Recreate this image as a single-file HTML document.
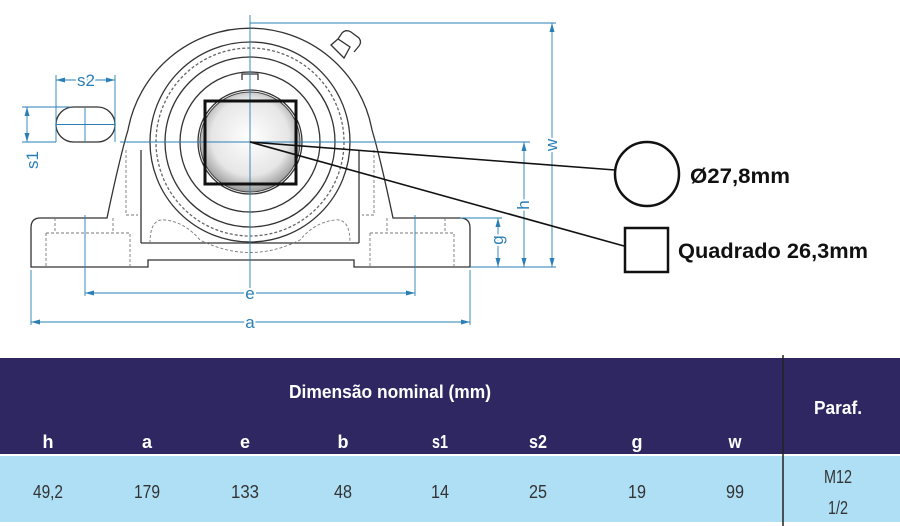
<!DOCTYPE html>
<html><head><meta charset="utf-8"><style>
body{margin:0;width:900px;height:526px;background:#fff;overflow:hidden;font-family:"Liberation Sans",sans-serif}
svg{position:absolute;left:0;top:0}
</style></head><body>
<svg width="900" height="526" viewBox="0 0 900 526">
<defs>
<radialGradient id="ball" cx="0.5" cy="0.45" r="0.55">
<stop offset="0" stop-color="#fff"/><stop offset="0.7" stop-color="#e6e6e6"/><stop offset="1" stop-color="#9a9a9a"/>
</radialGradient>
</defs>
<g fill="none" stroke="#333" stroke-width="1.3">
<path d="M40,218 L107,218 C115,180 122,150 128,130 A124,124 0 0 1 372,130 C378,150 385,180 393,218 L460,218 Q470,218 470,228 L470,267 L354,267 L354,260 L148,260 L148,267 L31,267 L31,228 Q31,218 40,218 Z"/>
<path d="M141,243 L141,150 M359,243 L359,150 M141,243 L359,243"/>
<circle cx="250" cy="142" r="100"/>
<circle cx="250" cy="142" r="94" stroke-dasharray="3,2" stroke="#666"/>
<circle cx="250" cy="142" r="85"/>
<circle cx="250" cy="142" r="70"/>
<circle cx="250" cy="142" r="52"/>
<path d="M242,80 L242,74 L258,74 L258,80"/>
<path d="M331,45 L338,39 L350,47 L344,58 Z M338,39 l4,-6 q4,-4 9,-1 l8,6 q3,4 0,8 l-5,6"/>
</g>
<g fill="none" stroke="#777" stroke-width="0.9" stroke-dasharray="3,2">
<path d="M46,233 L130,233 L130,267 M46,233 L46,267 M370,233 L454,233 L454,267 M370,233 L370,267"/>
<path d="M55,218 L55,233 M113,218 L113,233 M387,218 L387,233 M445,218 L445,233"/>
<path d="M150,243 Q150,218 165,220 Q185,222 200,240 Q250,265 300,240 Q315,222 335,220 Q350,218 350,243"/>
<path d="M126,150 L126,215 L138,215 M374,150 L374,215 L362,215"/>
</g>
<circle cx="250" cy="142" r="50" fill="url(#ball)" stroke="#444"/>
<rect x="56" y="107" width="59" height="35" rx="17.5" fill="none" stroke="#333" stroke-width="1.3"/>
<g stroke="#2a7fb5" stroke-width="0.9" fill="none">
<path d="M250,15 L250,300 M120,142 L530,142 M250,23 L556,23 M470,267 L556,267 M460,218 L502,218"/>
<path d="M552,23 L552,267 M524,142 L524,267 M498,218 L498,267"/>
<path d="M85,215 L85,296 M415,215 L415,296 M85,293 L415,293"/>
<path d="M31,270 L31,325 M470,270 L470,325 M31,322 L470,322"/>
<path d="M56,75 L56,142 M115,75 L115,142 M56,80 L115,80"/>
<path d="M22,107 L70,107 M22,142 L56,142 M27,107 L27,142 M56,124.5 L115,124.5 M85,107 L85,142"/>
</g>
<g fill="#2a7fb5">
<path d="M85,293 l9,-2.5 v5z M415,293 l-9,-2.5 v5z M31,322 l9,-2.5 v5z M470,322 l-9,-2.5 v5z"/>
<path d="M552,23 l-2.5,9 h5z M552,267 l-2.5,-9 h5z M524,142 l-2.5,9 h5z M524,267 l-2.5,-9 h5z M498,218 l-2.5,9 h5z M498,267 l-2.5,-9 h5z"/>
<path d="M56,80 l9,-2.5 v5z M115,80 l-9,-2.5 v5z M27,107 l-2.5,9 h5z M27,142 l-2.5,-9 h5z"/>
</g>
<g fill="#2a7fb5" font-size="17" font-family="Liberation Sans,sans-serif" text-anchor="middle" stroke="#fff" stroke-width="4" paint-order="stroke">
<text x="250" y="299">e</text><text x="250" y="328">a</text>
<text x="86" y="86">s2</text>
<text transform="translate(38,160) rotate(-90)">s1</text>
<text transform="translate(557,145) rotate(-90)">w</text>
<text transform="translate(529,205) rotate(-90)">h</text>
<text transform="translate(503,240) rotate(-90)">g</text>
</g>
<rect x="205" y="101" width="91" height="83" fill="none" stroke="#111" stroke-width="3"/>
<g stroke="#111" stroke-width="1.6">
<line x1="250" y1="142" x2="615" y2="170"/>
<line x1="250" y1="142" x2="624" y2="246"/>
</g>
<circle cx="647" cy="174" r="32" fill="none" stroke="#111" stroke-width="2.5"/>
<rect x="625" y="228" width="43" height="44" fill="none" stroke="#111" stroke-width="2.5"/>
<g font-weight="bold" font-size="21" fill="#111" font-family="Liberation Sans,sans-serif">
<text x="690" y="183" textLength="100" lengthAdjust="spacingAndGlyphs">Ø27,8mm</text>
<text x="678" y="258" textLength="190" lengthAdjust="spacingAndGlyphs">Quadrado 26,3mm</text>
</g>
<rect x="0" y="358" width="900" height="96" fill="#2e2762"/>
<rect x="0" y="456" width="900" height="66" fill="#aedff5"/>
<line x1="783" y1="355" x2="783" y2="526" stroke="#222" stroke-width="1.5"/>
<g fill="#fff" font-weight="bold" font-size="18" text-anchor="middle" font-family="Liberation Sans,sans-serif">
<text x="390" y="398" textLength="202" lengthAdjust="spacingAndGlyphs">Dimensão nominal (mm)</text>
<text x="838" y="414" textLength="48" lengthAdjust="spacingAndGlyphs">Paraf.</text>
<text x="48" y="448">h</text><text x="147" y="448">a</text><text x="245" y="448">e</text><text x="343" y="448">b</text>
<text x="440" y="448" textLength="16" lengthAdjust="spacingAndGlyphs">s1</text><text x="538" y="448" textLength="18" lengthAdjust="spacingAndGlyphs">s2</text><text x="637" y="448">g</text><text x="735" y="448" textLength="13" lengthAdjust="spacingAndGlyphs">w</text>
</g>
<g fill="#333" font-size="18" text-anchor="middle" font-family="Liberation Sans,sans-serif">
<text x="48" y="498" textLength="30" lengthAdjust="spacingAndGlyphs">49,2</text><text x="147" y="498" textLength="26" lengthAdjust="spacingAndGlyphs">179</text><text x="245" y="498" textLength="28" lengthAdjust="spacingAndGlyphs">133</text><text x="343" y="498" textLength="18" lengthAdjust="spacingAndGlyphs">48</text>
<text x="440" y="498" textLength="18" lengthAdjust="spacingAndGlyphs">14</text><text x="538" y="498" textLength="18" lengthAdjust="spacingAndGlyphs">25</text><text x="637" y="498" textLength="18" lengthAdjust="spacingAndGlyphs">19</text><text x="735" y="498" textLength="18" lengthAdjust="spacingAndGlyphs">99</text>
<text x="838" y="483" textLength="28" lengthAdjust="spacingAndGlyphs">M12</text><text x="838" y="514" textLength="20" lengthAdjust="spacingAndGlyphs">1/2</text>
</g>
</svg>
</body></html>
